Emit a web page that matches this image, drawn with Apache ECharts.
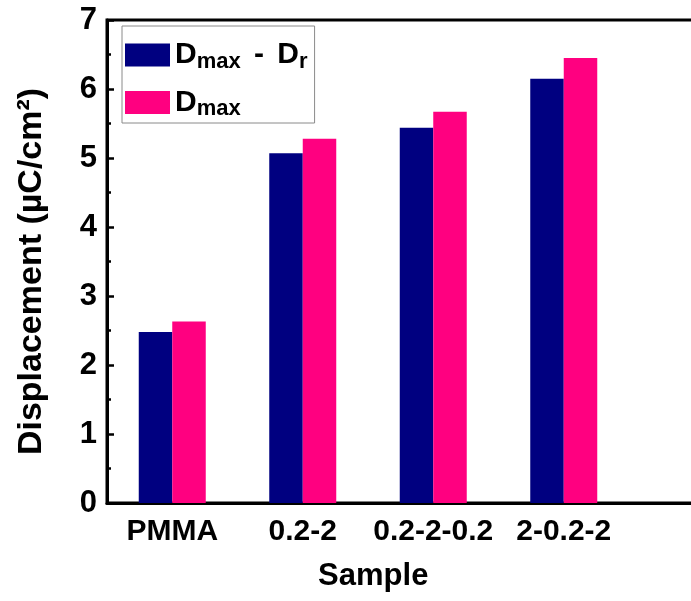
<!DOCTYPE html>
<html>
<head>
<meta charset="utf-8">
<script src="https://cdn.jsdelivr.net/npm/echarts@6/dist/echarts.min.js"></script>
<style>
  html, body { margin: 0; padding: 0; background: #fff; }
  #chart { width: 691px; height: 601px; }
</style>
</head>
<body>
<div id="chart"></div>
<script>
// Samples and measured displacement values (µC/cm²)
const samples = ['PMMA', '0.2-2', '0.2-2-0.2', '2-0.2-2'];
const dmaxMinusDr = [2.48, 5.07, 5.44, 6.15];
const dmax = [2.63, 5.28, 5.67, 6.45];
const yTicks = [0, 1, 2, 3, 4, 5, 6, 7];

const FONT = "'Liberation Sans', Arial, sans-serif";

// the frame runs past the right edge, so one extra empty slot keeps spacing
const categories = samples.concat(['']);

const chart = echarts.init(document.getElementById('chart'), null, { renderer: 'canvas' });

const legendRich = {
  D: { fontFamily: FONT, fontWeight: 'bold', fontSize: 30, color: '#000', lineHeight: 35 },
  g: { fontFamily: FONT, fontWeight: 'bold', fontSize: 18, color: '#000', lineHeight: 19, verticalAlign: 'bottom' },
  s: { fontFamily: FONT, fontWeight: 'bold', fontSize: 22, color: '#000', lineHeight: 19, verticalAlign: 'bottom' }
};

chart.setOption({
  animation: false,
  backgroundColor: '#fff',
  grid: {
    left: 107,
    top: 20,
    bottom: 98,
    width: 652.5,
    outerBoundsMode: 'none',
    containLabel: false,
    show: true,
    borderColor: '#000',
    borderWidth: 3,
    backgroundColor: 'transparent'
  },
  legend: {
    left: 122,
    top: 26,
    orient: 'vertical',
    icon: 'rect',
    itemWidth: 45,
    itemHeight: 23,
    itemGap: 15,
    itemTextGap: 10,
    padding: [14, 7, 3, 3],
    borderColor: '#8a8a8a',
    borderWidth: 1,
    backgroundColor: '#fff',
    data: ['Dmax - Dr', 'Dmax'],
    formatter: function (name) {
      return name === 'Dmax'
        ? '{D|D}{s|max}'
        : '{D|D}{s|max}{D| }{g| }{D|-}{D| }{g| }{D|D}{s|r}';
    },
    textStyle: { rich: legendRich }
  },
  xAxis: {
    type: 'category',
    data: categories,
    boundaryGap: true,
    axisLine: { show: true, lineStyle: { color: '#000', width: 3 } },
    axisTick: { show: false },
    axisLabel: {
      show: true,
      margin: 14,
      fontFamily: FONT,
      fontWeight: 'bold',
      fontSize: 30,
      color: '#000',
      interval: 0
    },
    splitLine: { show: false },
    name: 'Sample',
    nameLocation: 'middle',
    nameGap: 58,
    nameTextStyle: {
      fontFamily: FONT,
      fontWeight: 'bold',
      fontSize: 31,
      color: '#000',
      padding: [0, 120, 0, 0]
    }
  },
  yAxis: {
    type: 'value',
    min: yTicks[0],
    max: yTicks[yTicks.length - 1],
    interval: 1,
    axisLine: { show: true, lineStyle: { color: '#000', width: 3 } },
    axisTick: { show: true, inside: true, length: 7, lineStyle: { color: '#000', width: 2.5 } },
    minorTick: { show: true, splitNumber: 2, length: 4, lineStyle: { color: '#000', width: 2.5 } },
    axisLabel: {
      margin: 10,
      fontFamily: FONT,
      fontWeight: 'bold',
      fontSize: 31,
      color: '#000'
    },
    splitLine: { show: false },
    name: 'Displacement (µC/cm²)',
    nameLocation: 'middle',
    nameGap: 58,
    nameTextStyle: {
      fontFamily: FONT,
      fontWeight: 'bold',
      fontSize: 34,
      color: '#000',
      padding: [0, 20, 0, 0]
    }
  },
  series: [
    {
      name: 'Dmax - Dr',
      type: 'bar',
      data: dmaxMinusDr,
      barWidth: 33.5,
      barGap: '0%',
      itemStyle: { color: '#000080' }
    },
    {
      name: 'Dmax',
      type: 'bar',
      data: dmax,
      barWidth: 33.5,
      barGap: '0%',
      itemStyle: { color: '#ff0080' }
    }
  ]
});
</script>
</body>
</html>
